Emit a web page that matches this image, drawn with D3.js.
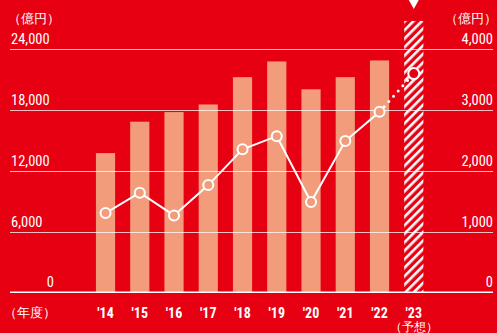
<!DOCTYPE html>
<html>
<head>
<meta charset="utf-8">
<script src="https://cdn.jsdelivr.net/npm/d3@7"></script>
<style>
  html, body { margin: 0; padding: 0; background: #e60012; }
  svg { display: block; }
  text { font-family: "Roboto Condensed", "Liberation Sans Narrow", Roboto, sans-serif; fill: #fff; }
</style>
</head>
<body>
<div id="chart"></div>
<script>
// data
const years = ["'14", "'15", "'16", "'17", "'18", "'19", "'20", "'21", "'22", "'23"];
const sales = [13750, 16850, 17800, 18550, 21250, 22800, 20050, 21250, 22900, 26800];   // 億円, left axis
const profit = [1305, 1640, 1265, 1765, 2355, 2570, 1485, 2490, 2970, 3600];           // 億円, right axis
const leftTicks = [0, 6000, 12000, 18000, 24000];
const rightTicks = [0, 1000, 2000, 3000, 4000];

const W = 497, H = 333;
const red = "#e60012", barCol = "#f29c7b";

const svg = d3.select("#chart").append("svg")
  .attr("width", W).attr("height", H);

const defs = svg.append("defs");
const pat = defs.append("pattern")
  .attr("id", "hatch")
  .attr("patternUnits", "userSpaceOnUse")
  .attr("width", 6).attr("height", 6)
  .attr("patternTransform", "rotate(45)");
pat.append("rect").attr("width", 6).attr("height", 6).attr("fill", red);
pat.append("rect").attr("width", 2.6).attr("height", 6).attr("fill", "#fff");

const x = d3.scaleBand()
  .domain(years)
  .range([88.4, 430.9])
  .paddingInner(0.44)
  .paddingOuter(0.22);

const yL = d3.scaleLinear().domain([0, 24000]).range([292.3, 49.3]);
const yR = d3.scaleLinear().domain([0, 4000]).range([292.3, 49.3]);

// bars
svg.append("g").selectAll("rect")
  .data(years)
  .join("rect")
  .attr("x", d => x(d))
  .attr("width", x.bandwidth())
  .attr("y", (d, i) => yL(sales[i]))
  .attr("height", (d, i) => yL(0) - yL(sales[i]))
  .attr("fill", (d, i) => i === years.length - 1 ? "url(#hatch)" : barCol);

// grid lines (over the bars, semi-transparent)
svg.append("g").selectAll("line")
  .data(leftTicks.filter(t => t > 0))
  .join("line")
  .attr("x1", 10).attr("x2", 493)
  .attr("y1", d => Math.round(yL(d)) + 0.5)
  .attr("y2", d => Math.round(yL(d)) + 0.5)
  .attr("stroke", "#fff").attr("stroke-opacity", 0.75).attr("stroke-width", 1);

svg.append("line")
  .attr("x1", 10).attr("x2", 493)
  .attr("y1", yL(0)).attr("y2", yL(0))
  .attr("stroke", "#fff").attr("stroke-width", 1.5);

// left ticks
svg.append("g").selectAll("text")
  .data(leftTicks)
  .join("text")
  .attr("x", d => d === 0 ? 54 : 11)
  .attr("text-anchor", d => d === 0 ? "end" : "start")
  .attr("y", d => yL(d) - 5)
  .attr("font-size", 14.5)
  .text(d => d3.format(",")(d));

// right ticks
svg.append("g").selectAll("text")
  .data(rightTicks)
  .join("text")
  .attr("x", 493)
  .attr("text-anchor", "end")
  .attr("y", d => yR(d) - 5)
  .attr("font-size", 14.5)
  .text(d => d3.format(",")(d));

svg.append("text").attr("x", 8).attr("y", 23).attr("font-size", 13)
  .attr("font-family", "Noto Sans CJK JP").text("（億円）");
svg.append("text").attr("x", 497).attr("y", 23).attr("font-size", 13)
  .attr("text-anchor", "end")
  .attr("font-family", "Noto Sans CJK JP").text("（億円）");

// x labels
svg.append("g").selectAll("text")
  .data(years)
  .join("text")
  .attr("x", d => x(d) + x.bandwidth() / 2)
  .attr("y", 318)
  .attr("text-anchor", "middle")
  .attr("font-size", 14)
  .attr("font-weight", "bold")
  .text(d => d);

svg.append("text").attr("x", 4).attr("y", 317).attr("font-size", 13)
  .attr("font-family", "Noto Sans CJK JP").text("（年度）");
svg.append("text").attr("x", x("'23") + x.bandwidth() / 2).attr("y", 331)
  .attr("text-anchor", "middle").attr("font-size", 11.5)
  .attr("font-family", "Noto Sans CJK JP").text("（予想）");

// marker triangle above forecast bar
const cx23 = x("'23") + x.bandwidth() / 2;
svg.append("path")
  .attr("d", d3.line()([[cx23 - 5, 0], [cx23 + 5, 0], [cx23, 9]]))
  .attr("fill", "#fff");

// line
const pts = years.map((d, i) => [x(d) + x.bandwidth() / 2, yR(profit[i])]);
const line = d3.line();
svg.append("path")
  .attr("d", line(pts.slice(0, 9)))
  .attr("fill", "none").attr("stroke", "#fff").attr("stroke-width", 2);
svg.append("path")
  .attr("d", line(pts.slice(8)))
  .attr("fill", "none").attr("stroke", "#fff").attr("stroke-width", 3)
  .attr("stroke-linecap", "round").attr("stroke-dasharray", "0 7");

svg.append("g").selectAll("circle")
  .data(pts)
  .join("circle")
  .attr("cx", d => d[0]).attr("cy", d => d[1])
  .attr("r", (d, i) => i === pts.length - 1 ? 5.5 : 5)
  .attr("fill", (d, i) => i === pts.length - 1 ? red : barCol)
  .attr("stroke", "#fff").attr("stroke-width", 2);
</script>
</body>
</html>
